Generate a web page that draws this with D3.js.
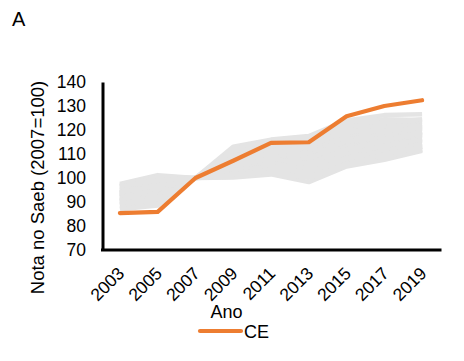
<!DOCTYPE html>
<html>
<head>
<meta charset="utf-8">
<script src="https://cdn.jsdelivr.net/npm/d3@7"></script>
<style>
  html, body { margin: 0; padding: 0; background: #fff; }
  svg { display: block; font-family: "Liberation Sans", Arial, sans-serif; }
</style>
</head>
<body>
<svg id="chart" width="464" height="361"></svg>
<script>
const years = ["2003", "2005", "2007", "2009", "2011", "2013", "2015", "2017", "2019"];
const yTicks = [70, 80, 90, 100, 110, 120, 130, 140];
const highlightName = "CE";
const ceValues = [85.4, 85.9, 100, 107.2, 114.6, 114.9, 125.7, 130.0, 132.4];
const otherStates = [
  [97.5, 101.2, 100, 113.0, 116.0, 117.5, 124.0, 126.2, 126.6],
  [96.5, 100.5, 100, 112.0, 115.0, 116.5, 123.0, 124.5, 124.2],
  [95.0, 99.5, 100, 110.5, 114.0, 115.5, 120.5, 122.5, 123.5],
  [94.0, 98.5, 100, 108.5, 112.5, 113.5, 119.0, 121.5, 122.5],
  [93.0, 97.5, 100, 107.5, 111.5, 112.5, 118.0, 120.5, 121.5],
  [92.0, 96.5, 100, 106.5, 110.5, 111.5, 117.0, 119.0, 120.5],
  [91.0, 95.5, 100, 105.5, 109.5, 110.5, 116.0, 118.0, 119.5],
  [90.0, 94.5, 100, 104.5, 108.5, 109.5, 115.0, 117.0, 118.5],
  [89.0, 93.5, 100, 104.0, 107.5, 108.5, 114.0, 116.0, 117.5],
  [92.5, 94.0, 100, 103.5, 106.5, 107.5, 113.0, 115.0, 116.5],
  [94.5, 96.0, 100, 103.0, 105.5, 106.5, 112.0, 114.0, 115.5],
  [93.5, 95.0, 100, 102.5, 104.5, 105.5, 111.0, 113.0, 114.5],
  [91.5, 93.0, 100, 102.0, 104.0, 104.5, 110.0, 112.0, 113.5],
  [90.5, 92.0, 100, 101.5, 103.0, 103.5, 109.0, 111.0, 112.5],
  [87.5, 89.5, 100, 101.0, 102.0, 100.5, 106.5, 108.5, 111.8],
  [88.5, 90.5, 100, 100.2, 101.5, 98.3, 104.8, 107.6, 111.3],
  [95.5, 97.5, 100, 101.2, 102.5, 102.0, 107.5, 109.5, 113.0],
  [96.0, 98.0, 100, 100.5, 102.0, 101.0, 106.0, 109.0, 112.0],
  [97.0, 100.0, 100, 111.0, 113.0, 114.0, 121.5, 123.0, 124.5],
  [92.5, 97.0, 100, 109.0, 113.5, 115.0, 122.0, 121.0, 122.0],
  [90.5, 96.0, 100, 106.0, 110.0, 113.0, 120.0, 119.5, 121.0],
  [93.5, 99.0, 100, 104.5, 107.0, 108.0, 115.5, 116.5, 118.0],
  [87.0, 88.5, 100, 103.0, 105.0, 104.0, 110.5, 113.5, 116.0],
  [94.0, 97.0, 100, 102.0, 103.5, 102.5, 108.0, 111.5, 114.0],
  [89.5, 91.0, 100, 101.5, 102.5, 100.0, 105.5, 110.0, 113.0],
  [96.5, 99.0, 100, 105.0, 108.0, 106.0, 112.0, 115.5, 119.0]
];

const FONT = "'Liberation Sans', Arial, sans-serif";
const svg = d3.select("#chart");

const x = d3.scalePoint().domain(years).range([101, 441]).padding(0.5);
const y = d3.scaleLinear().domain([70, 140]).range([250, 82]);

// panel label
svg.append("text").attr("x", 12).attr("y", 26)
  .attr("font-size", 20).attr("fill", "#000").text("A");

const line = d3.line()
  .x((d, i) => x(years[i]))
  .y(d => y(d));

svg.append("g").selectAll("path").data(otherStates).join("path")
  .attr("d", line)
  .attr("fill", "none")
  .attr("stroke", "#e4e4e4")
  .attr("stroke-width", 4.5)
  .attr("stroke-linejoin", "round");

svg.append("path").datum(ceValues)
  .attr("d", line)
  .attr("fill", "none")
  .attr("stroke", "#ED7D31")
  .attr("stroke-width", 4.2)
  .attr("stroke-linecap", "round")
  .attr("stroke-linejoin", "round");

// y axis
const yAxis = svg.append("g").attr("transform", "translate(102.5,0)")
  .call(d3.axisLeft(y).tickValues(yTicks).tickSize(0).tickSizeOuter(0).tickPadding(16.5));
yAxis.select(".domain").attr("stroke", "#000").attr("stroke-width", 3);
yAxis.selectAll("text").attr("font-size", 17.5).attr("fill", "#000")
  .attr("font-family", FONT);

// x axis
const xAxis = svg.append("g").attr("transform", "translate(0,250)")
  .call(d3.axisBottom(x).tickSize(0).tickSizeOuter(0));
xAxis.select(".domain").attr("stroke", "#000").attr("stroke-width", 3)
  .attr("d", "M101,0H441.5");
xAxis.selectAll("text")
  .attr("font-size", 17.5).attr("fill", "#000")
  .attr("font-family", FONT)
  .attr("dy", null).attr("y", 0)
  .attr("text-anchor", "end")
  .attr("transform", "translate(5,24.5) rotate(-45)");

// axis titles
svg.append("text")
  .attr("transform", "translate(43.5,187.5) rotate(-90)")
  .attr("text-anchor", "middle")
  .attr("font-size", 18.5).attr("fill", "#000")
  .text("Nota no Saeb (2007=100)");

svg.append("text").attr("x", 226.5).attr("y", 318)
  .attr("text-anchor", "middle")
  .attr("font-size", 18).attr("fill", "#000").text("Ano");

// legend
const lg = svg.append("g");
lg.append("line").attr("x1", 200).attr("x2", 241).attr("y1", 331).attr("y2", 331)
  .attr("stroke", "#ED7D31").attr("stroke-width", 4.2).attr("stroke-linecap", "round");
lg.append("text").attr("x", 244).attr("y", 337.5)
  .attr("font-size", 18).attr("fill", "#000").text(highlightName);
</script>
</body>
</html>
